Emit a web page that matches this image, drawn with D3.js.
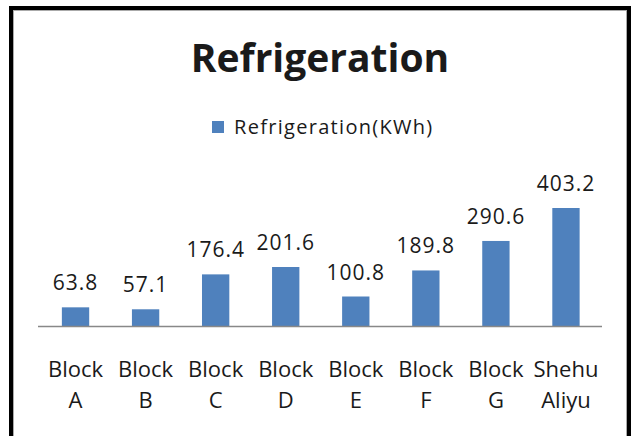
<!DOCTYPE html>
<html>
<head>
<meta charset="utf-8">
<script src="https://cdn.jsdelivr.net/npm/d3@7"></script>
<style>
  body { margin: 0; background: #fff; }
  text { font-family: "Open Sans", "DejaVu Sans", sans-serif; fill: #1a1a1a; }
</style>
</head>
<body>
<svg id="chart" width="631" height="436"></svg>
<script>
// chart data
var categories = ["Block A", "Block B", "Block C", "Block D", "Block E", "Block F", "Block G", "Shehu Aliyu"];
var values = [63.8, 57.1, 176.4, 201.6, 100.8, 189.8, 290.6, 403.2];
var seriesName = "Refrigeration(KWh)";
var chartTitle = "Refrigeration";

var barColor = "#4f81bd";
var svg = d3.select("#chart");

// outer frame (bottom edge is cropped off in the original)
svg.append("rect")
    .attr("x", 11).attr("y", 8)
    .attr("width", 618).attr("height", 460)
    .attr("fill", "none")
    .attr("stroke", "black")
    .attr("stroke-width", 4);
svg.append("rect")
    .attr("x", 13.5).attr("y", 10.5)
    .attr("width", 613).attr("height", 460)
    .attr("fill", "none")
    .attr("stroke", "#aaa")
    .attr("stroke-width", 1);

// one slot per category, bar takes ~39% of the slot
var x = d3.scaleBand()
    .domain(categories)
    .range([40.5, 601])
    .padding(0);
var barW = x.bandwidth() * 0.39;
function cx(name) { return x(name) + x.bandwidth() / 2; }

var baseline = 326;
var y = d3.scaleLinear()
    .domain([0, 403.2])
    .range([baseline, 208]);

// title
svg.append("text")
    .attr("x", 320).attr("y", 72)
    .attr("text-anchor", "middle")
    .style("font-size", "39px")
    .style("font-weight", "bold")
    .text(chartTitle);

// legend
svg.append("rect")
    .attr("x", 212).attr("y", 121)
    .attr("width", 12).attr("height", 12)
    .attr("fill", barColor);
svg.append("text")
    .attr("x", 234).attr("y", 134)
    .style("font-size", "20px")
    .style("letter-spacing", "1.3px")
    .text(seriesName);

// bars
svg.selectAll(".bar")
    .data(values)
    .join("rect")
    .attr("class", "bar")
    .attr("x", function(d, i) { return cx(categories[i]) - barW / 2; })
    .attr("y", function(d) { return y(d); })
    .attr("width", barW)
    .attr("height", function(d) { return baseline - y(d); })
    .attr("fill", barColor);

// value labels
svg.selectAll(".val")
    .data(values)
    .join("text")
    .attr("class", "val")
    .attr("x", function(d, i) { return cx(categories[i]); })
    .attr("y", function(d) { return y(d) - 17; })
    .attr("text-anchor", "middle")
    .style("font-size", "21px")
    .style("letter-spacing", "1px")
    .text(function(d) { return d.toFixed(1); });

// axis line
svg.append("line")
    .attr("x1", 38).attr("x2", 602)
    .attr("y1", baseline + 0.5).attr("y2", baseline + 0.5)
    .attr("stroke", "#888")
    .attr("stroke-width", 1.5);

// category labels, two lines each
var cat = svg.selectAll(".cat")
    .data(categories)
    .join("text")
    .attr("class", "cat")
    .attr("text-anchor", "middle")
    .style("font-size", "22px");
cat.each(function(d) {
    var parts = d.split(" ");
    var t = d3.select(this);
    parts.forEach(function(p, j) {
        t.append("tspan")
            .attr("x", cx(d))
            .attr("y", 377 + j * 31)
            .text(p);
    });
});
</script>
</body>
</html>
